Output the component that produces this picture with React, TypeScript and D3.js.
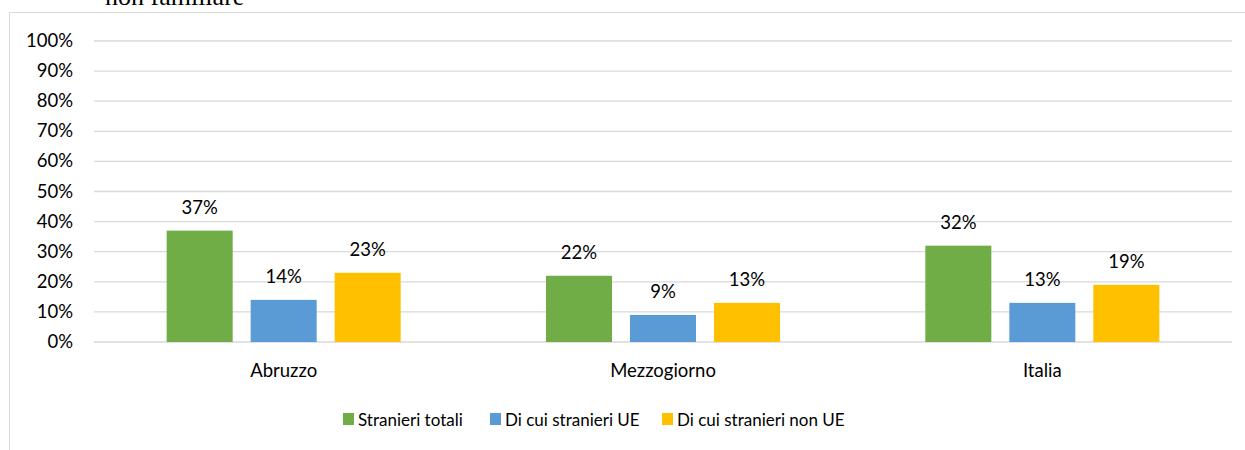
import React from "react";
import * as d3 from "d3";

const width = 1245;
const height = 450;
const margin = { top: 41, right: 13, bottom: 108, left: 94 };

const categories = ["Abruzzo", "Mezzogiorno", "Italia"];
const seriesNames = ["Stranieri totali", "Di cui stranieri UE", "Di cui stranieri non UE"];
const seriesColors = ["#70ad47", "#5b9bd5", "#ffc000"];
// one array per series, in category order
const totali = [37, 22, 32];
const ue = [14, 9, 13];
const nonUe = [23, 13, 19];
const yTicks = [0, 10, 20, 30, 40, 50, 60, 70, 80, 90, 100];

const font = "Lato, 'Open Sans', sans-serif";

export default function App() {
  const values = [totali, ue, nonUe];

  const x = d3
    .scaleBand()
    .domain(categories)
    .range([margin.left, width - margin.right]);
  const inner = d3
    .scaleBand()
    .domain(seriesNames)
    .range([0, x.bandwidth()])
    .paddingInner(0.214)
    .paddingOuter(0.865);
  const y = d3
    .scaleLinear()
    .domain([0, 100])
    .range([height - margin.bottom, margin.top]);

  // legend layout
  const legendX = [343, 490, 662];

  return (
    <svg
      width={width}
      height={height}
      style={{ position: "absolute", left: 0, top: 0, background: "#fff" }}
    >
      {/* clipped title line from the page */}
      <text x={105} y={5} fontFamily="'Liberation Serif', serif" fontSize={26} fill="#000">
        non familiare
      </text>
      {/* chart frame */}
      <line x1={9.5} x2={9.5} y1={12} y2={height} stroke="#d9d9d9" />
      <line x1={9.5} x2={width} y1={12.5} y2={12.5} stroke="#d9d9d9" />

      {yTicks.map((t) => (
        <g key={t}>
          <line
            x1={margin.left}
            x2={width - margin.right}
            y1={y(t)}
            y2={y(t)}
            stroke="#d9d9d9"
            strokeWidth={1.3}
          />
          <text
            x={73}
            y={y(t) + 6}
            textAnchor="end"
            fontFamily={font}
            fontSize={18.5}
            fill="#000"
          >
            {t}%
          </text>
        </g>
      ))}

      {categories.map((c, ci) => (
        <g key={c}>
          {seriesNames.map((s, si) => {
            const v = values[si][ci];
            const bx = (x(c) as number) + (inner(s) as number);
            return (
              <g key={s}>
                <rect
                  x={bx}
                  y={y(v)}
                  width={inner.bandwidth()}
                  height={y(0) - y(v)}
                  fill={seriesColors[si]}
                />
                <text
                  x={bx + inner.bandwidth() / 2}
                  y={y(v) - 17}
                  textAnchor="middle"
                  fontFamily={font}
                  fontSize={18.5}
                  fill="#000"
                >
                  {v}%
                </text>
              </g>
            );
          })}
          <text
            x={(x(c) as number) + x.bandwidth() / 2}
            y={376.5}
            textAnchor="middle"
            fontFamily={font}
            fontSize={18.5}
            fill="#000"
          >
            {c}
          </text>
        </g>
      ))}

      {seriesNames.map((s, si) => (
        <g key={s}>
          <rect x={legendX[si]} y={413} width={11} height={12} fill={seriesColors[si]} />
          <text
            x={legendX[si] + 15}
            y={425.5}
            fontFamily={font}
            fontSize={17}
            fill="#000"
          >
            {s}
          </text>
        </g>
      ))}
    </svg>
  );
}
